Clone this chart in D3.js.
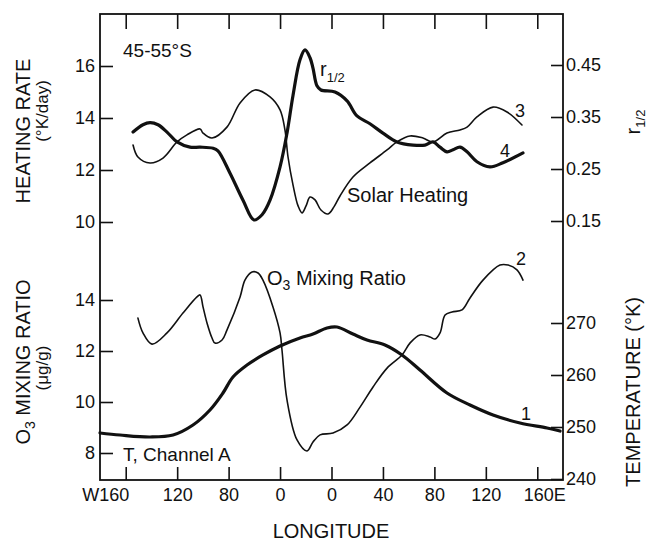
<!DOCTYPE html>
<html>
<head>
<meta charset="utf-8">
<script src="https://cdn.jsdelivr.net/npm/d3@7"></script>
<style>
  body { margin: 0; background: #fff; }
  text { font-family: "Liberation Sans", Arial, sans-serif; fill: #111; }
</style>
</head>
<body>
<div id="chart"></div>
<script>
// longitude ticks (W negative, E positive)
var lonTicks = [-160, -120, -80, -40, 0, 40, 80, 120, 160];
var lonLabels = ["W160", "120", "80", "0", "0", "40", "80", "120", "160E"];
var heatTicks = [10, 12, 14, 16];
var rTicks = [0.15, 0.25, 0.35, 0.45];
var o3Ticks = [8, 10, 12, 14];
var tempTicks = [240, 250, 260, 270];

// Solar heating (curve 3), K/day
var solarLon = [-154.3, -150.5, -141.1, -131.0, -120.1, -112.4, -102.2, -99.9, -92.9, -81.3, -71.1, -59.5, -47.8, -40.0, -36.2, -33.8, -29.9, -26.0, -22.9, -19.8, -16.7, -12.8, -8.2, -2.7, 1.9, 6.6, 16.7, 29.9, 43.2, 50.9, 61.0, 71.1, 78.9, 89.8, 99.9, 105.4, 113.1, 125.6, 136.5, 148.1];
var solarHeat = [12.96, 12.5, 12.27, 12.46, 13.08, 13.35, 13.58, 13.42, 13.23, 13.65, 14.58, 15.08, 14.81, 14.31, 13.54, 12.5, 11.42, 10.62, 10.35, 10.62, 10.96, 10.85, 10.46, 10.31, 10.58, 11.0, 11.73, 12.27, 12.77, 13.08, 13.31, 13.23, 13.08, 13.42, 13.54, 13.65, 14.04, 14.42, 14.23, 13.73];

// r1/2 (curve 4)
var rLon = [-154.3, -146.6, -141.1, -134.9, -127.9, -120.1, -110.0, -102.2, -92.1, -88.3, -78.9, -68.8, -60.3, -54.0, -47.8, -40.0, -34.6, -29.9, -24.5, -20.6, -16.7, -14.4, -11.3, -8.2, 2.7, 12.1, 19.8, 29.9, 40.0, 50.9, 63.4, 72.7, 78.9, 84.4, 89.8, 94.5, 99.9, 105.4, 113.1, 123.2, 133.3, 148.9];
var rHalf = [0.321, 0.335, 0.339, 0.335, 0.321, 0.302, 0.292, 0.292, 0.290, 0.285, 0.242, 0.190, 0.152, 0.162, 0.190, 0.254, 0.319, 0.392, 0.460, 0.479, 0.464, 0.444, 0.410, 0.402, 0.398, 0.381, 0.352, 0.337, 0.319, 0.302, 0.296, 0.296, 0.302, 0.292, 0.283, 0.287, 0.292, 0.283, 0.264, 0.254, 0.262, 0.281];

// O3 mixing ratio (curve 2), ug/g
var o3Lon = [-150.5, -146.6, -139.6, -127.9, -115.5, -104.6, -102.2, -99.9, -96.8, -92.9, -90.6, -85.1, -81.3, -71.1, -67.3, -61.8, -57.1, -53.3, -45.5, -40.0, -38.5, -34.6, -26.8, -19.0, -14.4, -8.9, 1.2, 12.1, 22.2, 32.3, 43.2, 54.8, 61.0, 68.8, 76.6, 80.5, 84.4, 88.3, 93.7, 101.5, 107.7, 117.8, 131.0, 137.3, 144.2, 148.9];
var o3Ratio = [13.29, 12.71, 12.27, 12.71, 13.49, 14.12, 14.2, 13.73, 13.1, 12.51, 12.31, 12.43, 12.82, 14.12, 14.78, 15.1, 15.06, 14.78, 13.73, 12.71, 12.04, 10.08, 8.51, 8.08, 8.43, 8.71, 8.78, 9.1, 9.8, 10.59, 11.33, 11.84, 12.31, 12.63, 12.55, 12.47, 12.71, 13.41, 13.53, 13.61, 14.08, 14.78, 15.37, 15.37, 15.18, 14.78];

// Temperature, channel A (curve 1), K
var tempLon = [-180, -164.4, -141.1, -123.2, -107.7, -94.5, -84.4, -76.6, -65.7, -53.3, -40.0, -24.5, -14.4, -3.5, 4.3, 16.7, 27.6, 41.6, 54.8, 68.8, 89.8, 107.7, 125.6, 146.6, 167.6, 177.7];
var tempK = [248.85, 248.46, 248.08, 248.46, 250.38, 253.27, 256.54, 259.62, 261.92, 263.85, 265.58, 267.12, 267.88, 269.04, 269.23, 267.88, 266.73, 265.77, 263.85, 260.96, 256.54, 254.23, 252.31, 250.77, 249.81, 249.23];

var width = 647, height = 541;
var p_left = 100, p_right = 563, p_top = 14, p_bottom = 480;

var svg = d3.select("#chart").append("svg")
    .attr("width", width)
    .attr("height", height);

var x = d3.scaleLinear().domain([-180, 180]).range([p_left, p_right]);
var yHeat = d3.scaleLinear().domain([10, 16]).range([222, 66]);
var yR = d3.scaleLinear().domain([0.15, 0.45]).range([221, 65]);
var yO3 = d3.scaleLinear().domain([8, 14]).range([453, 300]);
var yT = d3.scaleLinear().domain([240, 270]).range([479, 323]);

function styleAxis(g, size) {
    g.select(".domain").remove();
    g.selectAll("line").attr("stroke", "#111").attr("stroke-width", 1.6);
    g.selectAll("text")
        .attr("font-family", "'Liberation Sans', Arial, sans-serif")
        .attr("font-size", size)
        .attr("fill", "#111");
}

// left axes
svg.append("g").attr("transform", "translate(" + p_left + ",0)")
    .call(d3.axisLeft(yHeat).tickValues(heatTicks).tickSize(-13).tickPadding(5).tickFormat(d3.format("d")))
    .call(styleAxis, 18);
svg.append("g").attr("transform", "translate(" + p_left + ",0)")
    .call(d3.axisLeft(yO3).tickValues(o3Ticks).tickSize(-13).tickPadding(5).tickFormat(d3.format("d")))
    .call(styleAxis, 18);

// right axes
svg.append("g").attr("transform", "translate(" + p_right + ",0)")
    .call(d3.axisRight(yR).tickValues(rTicks).tickSize(-12).tickPadding(3).tickFormat(d3.format(".2f")))
    .call(styleAxis, 18);
svg.append("g").attr("transform", "translate(" + p_right + ",0)")
    .call(d3.axisRight(yT).tickValues(tempTicks).tickSize(-12).tickPadding(3).tickFormat(d3.format("d")))
    .call(styleAxis, 18);

// bottom + top
var xAxis = svg.append("g").attr("transform", "translate(0," + p_bottom + ")")
    .call(d3.axisBottom(x).tickValues(lonTicks).tickSize(-13).tickPadding(8)
        .tickFormat(function (d, i) { return lonLabels[i]; }))
    .call(styleAxis, 18);
xAxis.selectAll("text").filter(function (d, i) { return i == 0; })
    .attr("text-anchor", "end").attr("x", 3);
xAxis.selectAll("text").filter(function (d, i) { return i == lonTicks.length - 1; })
    .attr("text-anchor", "start").attr("x", -14);

svg.append("g").attr("transform", "translate(0," + p_top + ")")
    .call(d3.axisTop(x).tickValues(lonTicks).tickSize(-15).tickFormat(""))
    .call(styleAxis, 18);

// frame
svg.append("rect")
    .attr("x", p_left).attr("y", p_top)
    .attr("width", p_right - p_left).attr("height", p_bottom - p_top)
    .attr("fill", "none").attr("stroke", "#111").attr("stroke-width", 1.8);

// curves
function drawCurve(lons, vals, y, w) {
    var pts = lons.map(function (d, i) { return [x(d), y(vals[i])]; });
    svg.append("path")
        .attr("d", d3.line().curve(d3.curveCatmullRom.alpha(0.5))(pts))
        .attr("fill", "none")
        .attr("stroke", "#111")
        .attr("stroke-width", w)
        .attr("stroke-linejoin", "round")
        .attr("stroke-linecap", "round");
}
drawCurve(solarLon, solarHeat, yHeat, 1.6);
drawCurve(rLon, rHalf, yR, 3.2);
drawCurve(o3Lon, o3Ratio, yO3, 1.6);
drawCurve(tempLon, tempK, yT, 3.2);

// axis titles
function vText(tx, ty, size) {
    return svg.append("text")
        .attr("transform", "translate(" + tx + "," + ty + ") rotate(-90)")
        .attr("text-anchor", "middle")
        .attr("font-size", size);
}
vText(30, 131, 20).text("HEATING RATE");
vText(48, 111, 17).text("(°K/day)");
var o3t = vText(30, 362, 20);
o3t.append("tspan").text("O");
o3t.append("tspan").attr("font-size", 14).attr("dy", 5).text("3");
o3t.append("tspan").attr("dy", -5).text(" MIXING RATIO");
vText(48, 368, 17).text("(μg/g)");
var rt = vText(640, 122, 20);
rt.append("tspan").text("r");
rt.append("tspan").attr("font-size", 13).attr("dy", 5).text("1/2");
vText(640, 392, 20).text("TEMPERATURE (°K)");

svg.append("text")
    .attr("x", 331).attr("y", 538)
    .attr("text-anchor", "middle")
    .attr("font-size", 20)
    .text("LONGITUDE");

// annotations
function note(tx, ty, size, str) {
    return svg.append("text").attr("x", tx).attr("y", ty).attr("font-size", size).text(str);
}
note(123, 57, 19, "45-55°S");
var rl = note(320, 76, 20, "r");
rl.append("tspan").attr("font-size", 13).attr("dy", 6).text("1/2");
note(347, 202, 20, "Solar Heating");
var ol = note(267, 285, 20, "O");
ol.append("tspan").attr("font-size", 14).attr("dy", 5).text("3");
ol.append("tspan").attr("dy", -5).text(" Mixing Ratio");
note(123, 461, 19, "T, Channel A");
note(515, 117, 18, "3");
note(500, 157, 18, "4");
note(516, 265, 18, "2");
note(521, 420, 18, "1");
</script>
</body>
</html>
